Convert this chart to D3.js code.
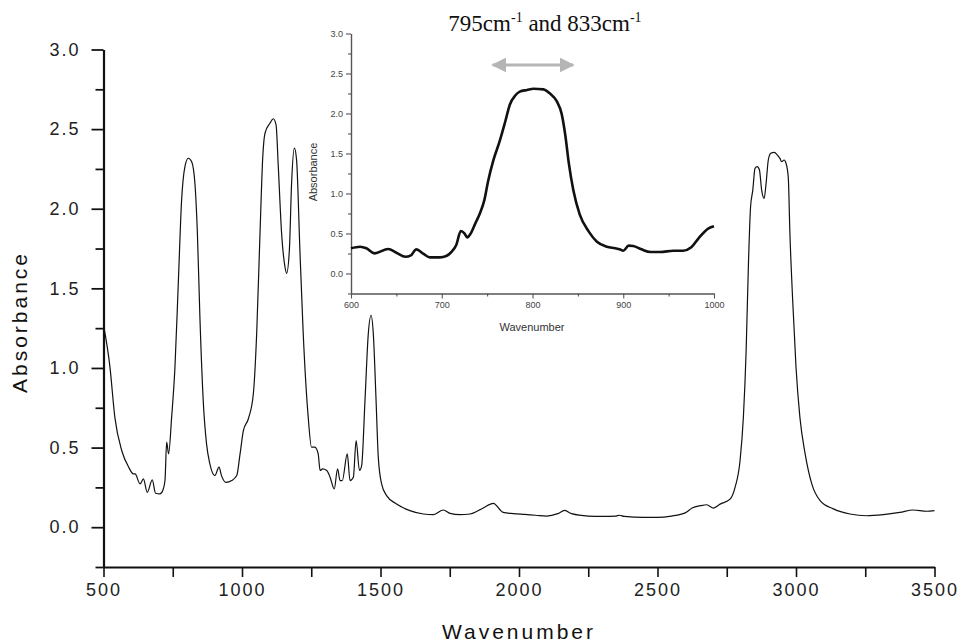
<!DOCTYPE html>
<html>
<head>
<meta charset="utf-8">
<script src="https://cdn.jsdelivr.net/npm/d3@7/dist/d3.min.js"></script>
<style>
  body { margin: 0; background: #fff; }
  svg text { font-family: "Liberation Sans", Arial, sans-serif; }
</style>
</head>
<body>
<div id="chart"></div>
<script>
var width = 962, height = 643;

// main FTIR spectrum (wavenumber, absorbance)
var wave = [500, 523, 541, 566, 590, 608, 614, 632, 644, 658, 676, 688, 704, 714, 722, 728, 735, 746, 758, 770,
  782, 794, 806, 818, 830, 839, 848, 860, 872, 884, 902, 917, 926, 942, 963, 981, 993, 1005, 1023, 1041,
  1053, 1065, 1075, 1083, 1101, 1113, 1123, 1131, 1143, 1155, 1161, 1171, 1179, 1189, 1197, 1209, 1221, 1239, 1251, 1263,
  1275, 1282, 1291, 1306, 1318, 1333, 1345, 1354, 1362, 1380, 1390, 1402, 1412, 1424, 1432, 1444, 1456, 1466, 1474, 1484,
  1492, 1504, 1522, 1558, 1606, 1655, 1691, 1727, 1751, 1787, 1823, 1871, 1907, 1943, 1980, 2020, 2060, 2100, 2140, 2165,
  2190, 2250, 2300, 2350, 2362, 2380, 2450, 2500, 2550, 2600, 2625, 2655, 2678, 2702, 2726, 2762, 2780, 2798, 2810, 2820,
  2828, 2836, 2844, 2852, 2860, 2868, 2876, 2885, 2892, 2900, 2909, 2921, 2933, 2942, 2948, 2957, 2964, 2972, 2978, 2988,
  3000, 3014, 3033, 3057, 3087, 3135, 3195, 3255, 3315, 3375, 3423, 3472, 3500];
var absorb = [1.27, 1.01, 0.69, 0.48, 0.38, 0.335, 0.335, 0.272, 0.303, 0.219, 0.297, 0.213, 0.209, 0.23, 0.293, 0.534, 0.46, 0.691, 1.006, 1.53,
  2.055, 2.265, 2.317, 2.296, 2.16, 1.845, 1.321, 0.796, 0.523, 0.398, 0.324, 0.377, 0.324, 0.282, 0.293, 0.324, 0.46, 0.607, 0.681, 0.838,
  1.216, 1.845, 2.327, 2.474, 2.537, 2.565, 2.527, 2.265, 1.845, 1.636, 1.594, 1.74, 2.16, 2.38, 2.307, 1.74, 1.216, 0.691, 0.503, 0.503,
  0.46, 0.356, 0.366, 0.356, 0.314, 0.24, 0.366, 0.293, 0.293, 0.46, 0.293, 0.314, 0.544, 0.356, 0.387, 0.796, 1.216, 1.331, 1.216, 0.796,
  0.44, 0.272, 0.198, 0.146, 0.104, 0.083, 0.079, 0.108, 0.087, 0.079, 0.083, 0.121, 0.15, 0.093, 0.085, 0.08, 0.075, 0.07, 0.085, 0.105,
  0.085, 0.07, 0.068, 0.07, 0.075, 0.068, 0.062, 0.062, 0.07, 0.09, 0.12, 0.135, 0.141, 0.12, 0.145, 0.176, 0.25, 0.417, 0.69, 1.11,
  1.634, 2.012, 2.117, 2.253, 2.264, 2.243, 2.117, 2.065, 2.159, 2.306, 2.348, 2.354, 2.337, 2.316, 2.295, 2.306, 2.285, 2.201, 1.845, 1.425,
  1.006, 0.691, 0.461, 0.272, 0.167, 0.115, 0.083, 0.072, 0.079, 0.093, 0.108, 0.1, 0.104];

// inset: zoom on 600-1000 cm-1
var insetWave = [600, 610, 617, 626, 641, 650, 660, 666, 672, 680, 687, 698, 705, 711, 716, 721, 725, 728, 732, 737,
  742, 747, 751, 757, 764, 770, 775, 781, 786, 794, 801, 812, 819, 827, 832, 836, 840, 845, 852, 862,
  871, 882, 891, 896, 900, 906, 911, 920, 930, 941, 955, 966, 975, 983, 994, 1000];
var insetAbsorb = [0.315, 0.335, 0.315, 0.252, 0.306, 0.26, 0.21, 0.227, 0.302, 0.244, 0.202, 0.202, 0.219, 0.273, 0.356, 0.531, 0.502, 0.452, 0.502, 0.627,
  0.75, 0.92, 1.15, 1.42, 1.66, 1.9, 2.11, 2.225, 2.273, 2.294, 2.31, 2.302, 2.252, 2.148, 2.002, 1.74, 1.38, 1.04, 0.74, 0.523,
  0.398, 0.335, 0.315, 0.302, 0.285, 0.348, 0.344, 0.302, 0.269, 0.269, 0.285, 0.285, 0.327, 0.44, 0.565, 0.59];

var xTicks = [500, 1000, 1500, 2000, 2500, 3000, 3500];
var xMinor = [750, 1250, 1750, 2250, 2750, 3250];
var yTicks = [0, 0.5, 1, 1.5, 2, 2.5, 3];
var yMinor = [-0.25, 0.25, 0.75, 1.25, 1.75, 2.25, 2.75];
var insetXTicks = [600, 700, 800, 900, 1000];
var insetXMinor = [650, 750, 850, 950];
var insetYMinor = [-0.25, 0.25, 0.75, 1.25, 1.75, 2.25, 2.75];
var arrowSpan = [754, 847];

var svg = d3.select("#chart").append("svg")
  .attr("width", width)
  .attr("height", height);

var x = d3.scaleLinear().domain([500, 3500]).range([103.5, 934.5]);
var y = d3.scaleLinear().domain([-0.25, 3]).range([567, 49.5]);

function styleAxis(g, w) {
  g.select(".domain").attr("stroke", "#111").attr("stroke-width", w);
  g.selectAll(".tick line").attr("stroke", "#111").attr("stroke-width", w * 0.8);
}

// main axes
var gx = svg.append("g").attr("transform", "translate(0,567)")
  .call(d3.axisBottom(x).tickValues(xTicks).tickSize(10).tickSizeOuter(0).tickPadding(6).tickFormat(d3.format("d")));
gx.append("g").call(d3.axisBottom(x).tickValues(xMinor).tickSize(10).tickFormat(""))
  .select(".domain").remove();
styleAxis(gx, 2);
gx.selectAll("text").attr("fill", "#222").style("font-size", "18px").style("letter-spacing", "2px");

var gy = svg.append("g").attr("transform", "translate(103.5,0)")
  .call(d3.axisLeft(y).tickValues(yTicks).tickSize(12).tickSizeOuter(0).tickPadding(11).tickFormat(d3.format(".1f")));
gy.append("g").call(d3.axisLeft(y).tickValues(yMinor).tickSize(8).tickFormat(""))
  .select(".domain").remove();
styleAxis(gy, 2.2);
gy.selectAll("text").attr("fill", "#222").style("font-size", "18px").style("letter-spacing", "2px");

svg.append("text")
  .attr("x", 519).attr("y", 639)
  .attr("text-anchor", "middle")
  .style("font-size", "21px").style("letter-spacing", "3px")
  .attr("fill", "#111")
  .text("Wavenumber");

svg.append("text")
  .attr("transform", "translate(27,322) rotate(-90)")
  .attr("text-anchor", "middle")
  .style("font-size", "21px").style("letter-spacing", "3px")
  .attr("fill", "#111")
  .text("Absorbance");

var line = d3.line()
  .x(function (d, i) { return x(wave[i]); })
  .y(function (d) { return y(d); })
  .curve(d3.curveMonotoneX);

svg.append("path")
  .datum(absorb)
  .attr("d", line)
  .attr("fill", "none")
  .attr("stroke", "#111")
  .attr("stroke-width", 1.2);

// inset
var ix = d3.scaleLinear().domain([600, 1000]).range([351, 714]);
var iy = d3.scaleLinear().domain([-0.25, 3]).range([293.5, 33.5]);

var igx = svg.append("g").attr("transform", "translate(0,293.5)")
  .call(d3.axisBottom(ix).tickValues(insetXTicks).tickSize(5).tickSizeOuter(0).tickPadding(3).tickFormat(d3.format("d")));
igx.append("g").call(d3.axisBottom(ix).tickValues(insetXMinor).tickSize(3).tickFormat(""))
  .select(".domain").remove();
var igy = svg.append("g").attr("transform", "translate(351,0)")
  .call(d3.axisLeft(iy).tickValues(yTicks).tickSize(5).tickSizeOuter(0).tickPadding(3).tickFormat(d3.format(".1f")));
igy.append("g").call(d3.axisLeft(iy).tickValues(insetYMinor).tickSize(3).tickFormat(""))
  .select(".domain").remove();
[igx, igy].forEach(function (g) {
  g.select(".domain").attr("stroke", "#555").attr("stroke-width", 1.4);
  g.selectAll(".tick line").attr("stroke", "#555").attr("stroke-width", 1.1);
  g.selectAll("text").attr("fill", "#444").style("font-size", "9px");
});

svg.append("text")
  .attr("x", 532).attr("y", 331)
  .attr("text-anchor", "middle")
  .style("font-size", "11px")
  .attr("fill", "#333")
  .text("Wavenumber");

svg.append("text")
  .attr("transform", "translate(317,172) rotate(-90)")
  .attr("text-anchor", "middle")
  .style("font-size", "11px")
  .attr("fill", "#333")
  .text("Absorbance");

var insetLine = d3.line()
  .x(function (d, i) { return ix(insetWave[i]); })
  .y(function (d) { return iy(d); })
  .curve(d3.curveMonotoneX);

svg.append("path")
  .datum(insetAbsorb)
  .attr("d", insetLine)
  .attr("fill", "none")
  .attr("stroke", "#111")
  .attr("stroke-width", 2.6)
  .attr("stroke-linejoin", "round");

// grey double arrow over the band
var defs = svg.append("defs");
defs.append("marker")
  .attr("id", "head")
  .attr("viewBox", "0 0 10 10")
  .attr("refX", 9).attr("refY", 5)
  .attr("markerWidth", 5).attr("markerHeight", 5)
  .attr("markerUnits", "strokeWidth")
  .attr("orient", "auto-start-reverse")
  .append("path")
  .attr("d", "M0,0L10,5L0,10Z")
  .attr("fill", "#b5b5b5");

svg.append("line")
  .attr("x1", ix(arrowSpan[0]) + 2).attr("x2", ix(arrowSpan[1]) - 2)
  .attr("y1", 65).attr("y2", 65)
  .attr("stroke", "#b5b5b5")
  .attr("stroke-width", 3)
  .attr("marker-start", "url(#head)")
  .attr("marker-end", "url(#head)");

// title
var title = svg.append("text")
  .attr("x", 545).attr("y", 31)
  .attr("text-anchor", "middle")
  .style("font-family", "'Liberation Serif', 'Times New Roman', serif")
  .style("font-size", "23px")
  .attr("fill", "#111");
title.append("tspan").text("795cm");
title.append("tspan").attr("dy", -9).style("font-size", "14px").text("-1");
title.append("tspan").attr("dy", 9).text(" and 833cm");
title.append("tspan").attr("dy", -9).style("font-size", "14px").text("-1");
</script>
</body>
</html>
